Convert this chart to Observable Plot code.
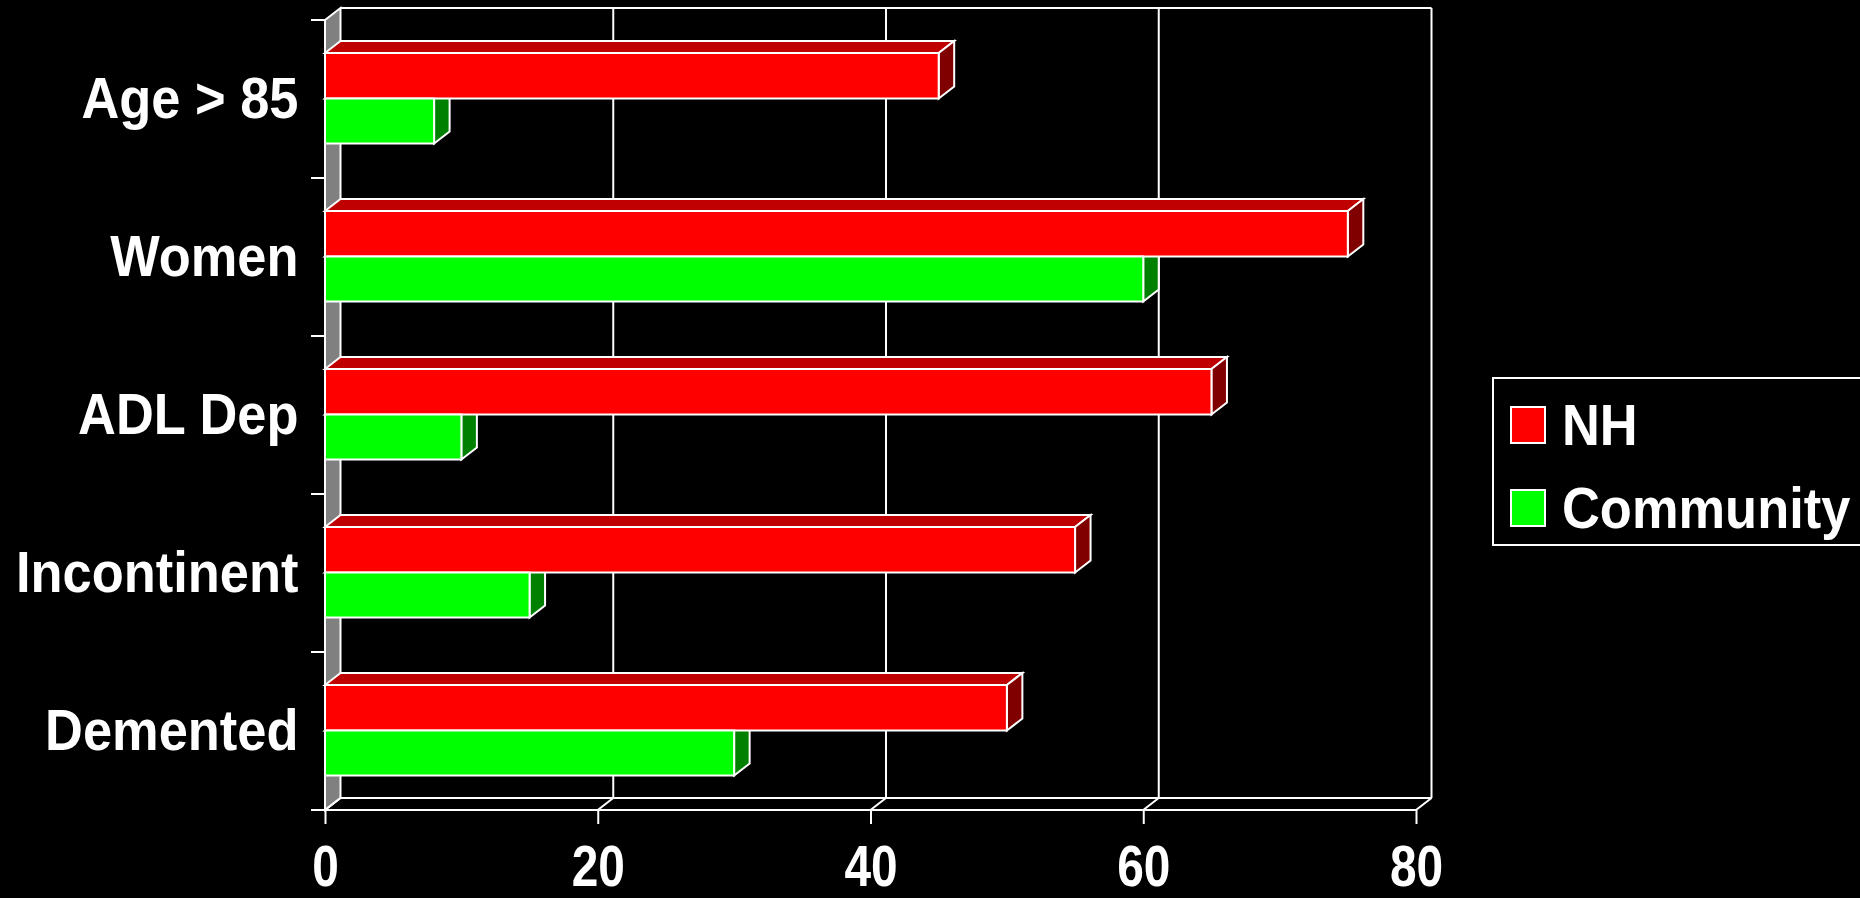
<!DOCTYPE html>
<html>
<head>
<meta charset="utf-8">
<script src="https://cdn.jsdelivr.net/npm/d3@7"></script>
<script src="https://cdn.jsdelivr.net/npm/@observablehq/plot@0.6"></script>
<style>
  html, body { margin: 0; padding: 0; background: #000; }
  #chart { width: 1860px; height: 898px; overflow: hidden; }
</style>
</head>
<body>
<div id="chart"></div>
<script>
// Characteristics of nursing-home (NH) residents vs. community dwellers, in percent
const categories = ["Age > 85", "Women", "ADL Dep", "Incontinent", "Demented"];
const nhValues = [45, 75, 65, 55, 50];
const communityValues = [8, 60, 10, 15, 30];
const seriesNames = ["NH", "Community"];
const xTicks = [0, 20, 40, 60, 80];

// Long table built from the arrays above
const rows = categories.flatMap((category, i) => [
  {category, series: "NH", value: nhValues[i]},
  {category, series: "Community", value: communityValues[i]}
]);

// Layout
const W = 1860, H = 898;
const margin = {top: 20, right: 444, bottom: 88, left: 325};
const step = (H - margin.top - margin.bottom) / categories.length;
// vertical slot of each series inside its category band (px from band top)
const slot = {NH: [33, 78.5], Community: [78.5, 123.5]};
// 3-D depth offset
const DX = 15.5, DY = -12;
const FONT = "'Liberation Sans', Arial, Helvetica, sans-serif";
const frontColor = ["#ff0000", "#00ff00"];
const topColor = {NH: "#c00000", Community: "#00c000"};
const sideColor = {NH: "#800000", Community: "#008000"};

// Gray side wall, back-wall gridlines, floor and category ticks
function frame(index, {x, y}) {
  const x0 = x(0), x1 = x(xTicks[xTicks.length - 1]);
  const y0 = y(categories[0]), y1 = y(categories[categories.length - 1]) + y.bandwidth();
  const g = d3.create("svg:g")
    .attr("stroke", "#fff").attr("stroke-width", 2).attr("fill", "none")
    .attr("stroke-linejoin", "miter");
  g.append("path").attr("fill", "#808080")
    .attr("d", `M${x0},${y0}L${x0 + DX},${y0 + DY}L${x0 + DX},${y1 + DY}L${x0},${y1}Z`);
  for (const t of xTicks.slice(1)) {
    g.append("line").attr("x1", x(t) + DX).attr("x2", x(t) + DX).attr("y1", y0 + DY).attr("y2", y1 + DY);
  }
  g.append("line").attr("x1", x0 + DX).attr("x2", x1 + DX).attr("y1", y0 + DY).attr("y2", y0 + DY);
  g.append("line").attr("x1", x0 + DX).attr("x2", x1 + DX).attr("y1", y1 + DY).attr("y2", y1 + DY);
  for (const t of xTicks) {
    g.append("line").attr("x1", x(t)).attr("x2", x(t) + DX).attr("y1", y1).attr("y2", y1 + DY);
  }
  g.append("line").attr("x1", x0).attr("x2", x1).attr("y1", y1).attr("y2", y1);
  const bounds = categories.map((c) => y(c)).concat([y1]);
  for (const b of bounds) {
    g.append("line").attr("x1", x0 - 14).attr("x2", x0).attr("y1", b).attr("y2", b);
  }
  return g.node();
}

// Top and side faces of each bar
function depthFaces(index, {x, y}) {
  const g = d3.create("svg:g").attr("stroke", "#fff").attr("stroke-width", 2).attr("stroke-linejoin", "miter");
  for (const r of rows) {
    const xa = x(0), xb = x(r.value);
    const ta = y(r.category) + slot[r.series][0];
    const tb = y(r.category) + slot[r.series][1];
    g.append("path").attr("fill", topColor[r.series])
      .attr("d", `M${xa},${ta}L${xa + DX},${ta + DY}L${xb + DX},${ta + DY}L${xb},${ta}Z`);
    g.append("path").attr("fill", sideColor[r.series])
      .attr("d", `M${xb},${ta}L${xb + DX},${ta + DY}L${xb + DX},${tb + DY}L${xb},${tb}Z`);
  }
  return g.node();
}

function legend(index, {color}) {
  const g = d3.create("svg:g");
  g.append("rect").attr("x", 1493).attr("y", 378).attr("width", 420).attr("height", 167)
    .attr("fill", "#000").attr("stroke", "#fff").attr("stroke-width", 2);
  seriesNames.forEach((name, i) => {
    g.append("rect").attr("x", 1511).attr("y", 407 + i * 83).attr("width", 34).attr("height", 36)
      .attr("fill", color(name)).attr("stroke", "#fff").attr("stroke-width", 2);
    g.append("text").attr("transform", `translate(1562,${445 + i * 83}) scale(0.92,1)`)
      .attr("text-anchor", "start")
      .attr("fill", "#fff").attr("font-family", FONT).attr("font-weight", "bold")
      .attr("font-size", 57).text(name);
  });
  return g.node();
}

const bars = seriesNames.map((s) => Plot.barX(rows.filter((r) => r.series === s), {
  x: "value", y: "category", fill: "series",
  stroke: "#fff", strokeWidth: 2,
  insetTop: slot[s][0], insetBottom: step - slot[s][1]
}));

const chart = Plot.plot({
  width: W,
  height: H,
  marginTop: margin.top,
  marginRight: margin.right,
  marginBottom: margin.bottom,
  marginLeft: margin.left,
  style: {background: "#000", color: "#fff", fontFamily: FONT, fontWeight: "bold"},
  x: {domain: [0, 80], label: null},
  y: {domain: categories, padding: 0, label: null},
  color: {domain: seriesNames, range: frontColor},
  marks: [
    frame,
    depthFaces,
    ...bars,
    Plot.axisX(xTicks, {tickSize: 14, tickPadding: 21, fontSize: 57, strokeWidth: 2, label: null}),
    Plot.axisY({tickSize: 0, tickPadding: 27, fontSize: 57, label: null}),
    legend
  ]
});

// narrow the bold lettering the way the slide font renders
function squeeze(selection, k) {
  selection.each(function () {
    const t = this.getAttribute("transform") || "";
    this.setAttribute("transform", `${t} scale(${k},1)`);
  });
}
const svg = d3.select(chart);
squeeze(svg.selectAll('g[aria-label="x-axis tick label"] text'), 0.84);
squeeze(svg.selectAll('g[aria-label="y-axis tick label"] text'), 0.92);

document.getElementById("chart").append(chart);
</script>
</body>
</html>
